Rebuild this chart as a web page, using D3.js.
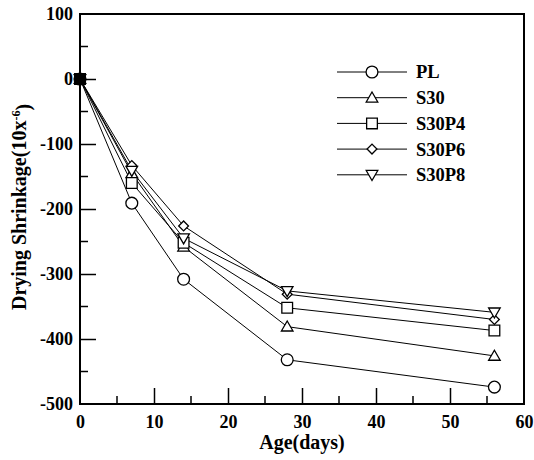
<!DOCTYPE html>
<html>
<head>
<meta charset="utf-8">
<script src="https://cdn.jsdelivr.net/npm/d3@7"></script>
<style>
  body { margin: 0; background: #fff; }
  text { font-family: "Liberation Serif", "Times New Roman", serif; font-weight: 700; }
</style>
</head>
<body>
<div id="chart"></div>
<script>
var svgWidth = 534;
var svgHeight = 460;

var margin = { top: 14, right: 10, bottom: 56, left: 80 };
var width = 524 - margin.left;
var height = 404 - margin.top;

// Data
var ages = [0, 7, 14, 28, 56];
var seriesNames = ["PL", "S30", "S30P4", "S30P6", "S30P8"];
var plValues = [0, -191, -308, -432, -474];
var s30Values = [0, -145, -258, -381, -426];
var s30p4Values = [0, -160, -252, -352, -387];
var s30p6Values = [0, -133, -226, -331, -370];
var s30p8Values = [0, -141, -245, -326, -359];
var xTicks = [0, 10, 20, 30, 40, 50, 60];
var yTicks = [100, 0, -100, -200, -300, -400, -500];

var allValues = [plValues, s30Values, s30p4Values, s30p6Values, s30p8Values];
var symbols = [d3.symbolCircle, d3.symbolTriangle, d3.symbolSquare, d3.symbolSquare, d3.symbolTriangle];
var symbolSize = [110, 58, 115, 48, 58];
var symbolRotate = [0, 0, 0, 45, 180];

var svg = d3.select("#chart")
  .append("svg")
  .attr("width", svgWidth)
  .attr("height", svgHeight);

var chart = svg.append("g")
  .attr("transform", `translate(${margin.left}, ${margin.top})`);

var x = d3.scaleLinear().domain([0, 60]).range([0, width]);
var y = d3.scaleLinear().domain([-500, 100]).range([height, 0]);

// Minor ticks (inside)
var xMinor = d3.range(5, 60, 10);
var yMinor = d3.range(-450, 100, 100);

chart.append("g")
  .selectAll("line")
  .data(xMinor)
  .enter()
  .append("line")
  .attr("x1", d => x(d)).attr("x2", d => x(d))
  .attr("y1", height).attr("y2", height - 8)
  .attr("stroke", "#000").attr("stroke-width", 1.5);

chart.append("g")
  .selectAll("line")
  .data(yMinor)
  .enter()
  .append("line")
  .attr("y1", d => y(d)).attr("y2", d => y(d))
  .attr("x1", 0).attr("x2", 8)
  .attr("stroke", "#000").attr("stroke-width", 1.5);

// Axes (plain hyphen for negatives, like the original)
var bottomAxis = d3.axisBottom(x).tickValues(xTicks).tickFormat(d => String(d))
  .tickSizeInner(-16).tickSizeOuter(0).tickPadding(22);
var leftAxis = d3.axisLeft(y).tickValues(yTicks).tickFormat(d => String(d))
  .tickSizeInner(-16).tickSizeOuter(0).tickPadding(7);

var gx = chart.append("g")
  .attr("transform", `translate(0, ${height})`)
  .call(bottomAxis);
var gy = chart.append("g").call(leftAxis);

[gx, gy].forEach(function(g) {
  g.attr("font-family", null).attr("font-size", null);
  g.select(".domain").remove();
  g.selectAll(".tick line").attr("stroke", "#000").attr("stroke-width", 1.5);
  g.selectAll(".tick text")
    .attr("font-size", "18px")
    .attr("fill", "#000");
});
gx.selectAll(".tick text").attr("dy", "0.1em");
gx.selectAll(".tick").filter(d => d === 60 || d === 0).select("line").remove();
gy.selectAll(".tick").filter(d => d === 100 || d === -500).select("line").remove();

// Frame
chart.append("rect")
  .attr("x", 0).attr("y", 0)
  .attr("width", width).attr("height", height)
  .attr("fill", "none")
  .attr("stroke", "#000")
  .attr("stroke-width", 2);

// Lines
var line = d3.line()
  .x((d, i) => x(ages[i]))
  .y(d => y(d));

chart.append("g")
  .selectAll("path")
  .data(allValues)
  .enter()
  .append("path")
  .attr("d", d => line(d))
  .attr("fill", "none")
  .attr("stroke", "#000")
  .attr("stroke-width", 1);

// Markers
function markerPath(i) {
  return d3.symbol().type(symbols[i]).size(symbolSize[i])();
}
function markerShift(i) {
  return (i === 1 || i === 4) ? " translate(0,1)" : "";
}

allValues.forEach(function(vals, i) {
  chart.append("g")
    .selectAll("path")
    .data(vals)
    .enter()
    .append("path")
    .attr("d", markerPath(i))
    .attr("transform", (d, j) => `translate(${x(ages[j])}, ${y(d)}) rotate(${symbolRotate[i]})` + markerShift(i))
    .attr("fill", (d, j) => j === 0 ? "#000" : "#fff")
    .attr("stroke", "#000")
    .attr("stroke-width", 1.3);
});

// Legend
var legend = svg.append("g").attr("transform", "translate(337, 72)");
seriesNames.forEach(function(name, i) {
  var row = legend.append("g").attr("transform", `translate(0, ${i * 25.7})`);
  row.append("line")
    .attr("x1", 0).attr("x2", 70)
    .attr("y1", 0).attr("y2", 0)
    .attr("stroke", "#000").attr("stroke-width", 1);
  row.append("path")
    .attr("d", markerPath(i))
    .attr("transform", `translate(35, 0) rotate(${symbolRotate[i]})` + markerShift(i))
    .attr("fill", "#fff")
    .attr("stroke", "#000")
    .attr("stroke-width", 1.3);
  row.append("text")
    .attr("x", 79).attr("y", 0)
    .attr("dy", "0.35em")
    .attr("font-size", "18.5px")
    .text(name);
});

// Axis labels
svg.append("text")
  .attr("x", margin.left + width / 2)
  .attr("y", 449)
  .attr("text-anchor", "middle")
  .attr("font-size", "20px")
  .text("Age(days)");

var ylab = svg.append("text")
  .attr("transform", `translate(26, ${margin.top + height / 2 - 2}) rotate(-90)`)
  .attr("text-anchor", "middle")
  .attr("font-size", "20px");
ylab.append("tspan").text("Drying Shrinkage(10x");
ylab.append("tspan").attr("dy", "-0.5em").attr("font-size", "12px").text("-6");
ylab.append("tspan").attr("dy", "0.5em").text(")");
</script>
</body>
</html>
